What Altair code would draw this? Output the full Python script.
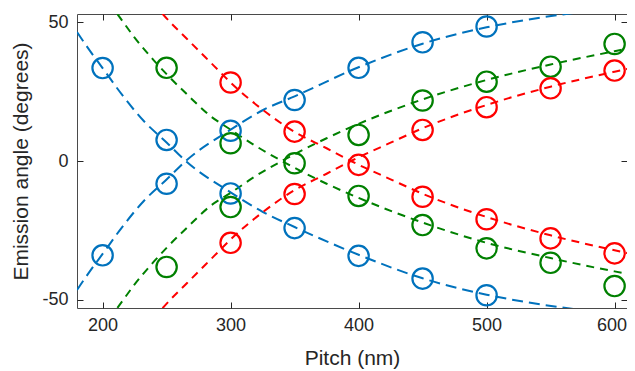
import altair as alt
import pandas as pd

# ---------------- data ----------------
# dashed theory curves (pitch in nm, angle in degrees)
blue_down_x = [180, 190, 200, 215, 232, 250, 265, 300, 325, 350, 400, 450, 500, 530, 570]
blue_down_y = [46.5, 39.8, 33.5, 24, 14.5, 6.7, 0, -11.3, -18.3, -23.8, -33.8, -42.3, -48.2, -50.8, -53.5]
blue_up_x = [180, 190, 200, 215, 232, 250, 265, 300, 325, 350, 400, 450, 500, 530, 570]
blue_up_y = [-46.5, -39.8, -33.5, -24, -14.5, -6.7, 0, 11.3, 18.3, 23.3, 33.8, 42.3, 48.2, 50.8, 53.5]

green_down_x = [205, 212, 225, 240, 250, 266, 284, 300, 320, 340, 375, 400, 450, 500, 550, 600, 620]
green_down_y = [57, 52.7, 44.5, 36.3, 31.3, 24, 16.3, 11.3, 5.3, 0, -8.2, -13.3, -22.2, -29.5, -35, -39.8, -41.5]
green_up_x = [205, 212, 225, 240, 250, 266, 284, 300, 320, 340, 375, 400, 450, 500, 550, 600, 620]
green_up_y = [-57, -52.7, -44.5, -36.3, -31.3, -24, -16.3, -11.5, -5.3, 0, 8.2, 13.4, 22.2, 29.2, 34.8, 39.6, 41.5]

red_down_x = [240, 247, 266, 287, 300, 325, 350, 375, 394, 425, 450, 500, 550, 600, 620]
red_down_y = [57, 53, 44, 34.3, 28.3, 18.5, 10.5, 4.6, 0, -6.6, -11.8, -20.2, -26.8, -32.2, -34.2]
red_up_x = [240, 247, 266, 287, 300, 325, 350, 375, 394, 425, 450, 500, 550, 600, 620]
red_up_y = [-57, -53, -44, -34.3, -28.3, -18.5, -10.5, -4.6, 0, 6.6, 11.8, 20.2, 26.8, 32.2, 34.2]

# measured points (open circles)
blue_x = [200, 200, 250, 250, 300, 300, 350, 350, 400, 400, 450, 450, 500, 500]
blue_y = [33.5, -34, 7.6, -8.2, 10.9, -11.7, 22, -24.2, 33.6, -34.2, 42.8, -42.4, 48.5, -48.4]

green_x = [250, 250, 300, 300, 350, 400, 400, 450, 450, 500, 500, 550, 550, 600, 600]
green_y = [33.6, -38.2, 6.4, -16.6, -0.8, 9.4, -12.6, 21.8, -23.1, 28.6, -31.5, 34, -36.7, 42.2, -45.1]

red_x = [300, 300, 350, 350, 400, 450, 450, 500, 500, 550, 550, 600, 600]
red_y = [28.3, -29.5, 10.6, -11.9, -1.4, 11.2, -12.9, 19.4, -21, 26.2, -27.9, 32.6, -33.3]

series_names = ["blue", "green", "red"]
series_colors = ["#0072BD", "#008000", "#FF0000"]
x_ticks = [200, 300, 400, 500, 600]
y_ticks = [-50, 0, 50]

# ---------------- tables ----------------
curve_rows = []
for series, cname, xs, ys in [
    ("blue", "blue_down", blue_down_x, blue_down_y),
    ("blue", "blue_up", blue_up_x, blue_up_y),
    ("green", "green_down", green_down_x, green_down_y),
    ("green", "green_up", green_up_x, green_up_y),
    ("red", "red_down", red_down_x, red_down_y),
    ("red", "red_up", red_up_x, red_up_y),
]:
    for x, y in zip(xs, ys):
        curve_rows.append({"series": series, "curve": cname, "pitch": x, "angle": y})
curves = pd.DataFrame(curve_rows)

pt_rows = []
for series, xs, ys in [("blue", blue_x, blue_y), ("green", green_x, green_y), ("red", red_x, red_y)]:
    for x, y in zip(xs, ys):
        pt_rows.append({"series": series, "pitch": x, "angle": y})
points = pd.DataFrame(pt_rows)

# ---------------- chart ----------------
FONT = "Liberation Sans"
TXT = "#262626"
x_scale = alt.Scale(domain=[180, 609.7], nice=False, zero=False)
y_scale = alt.Scale(domain=[-53, 53], nice=False, zero=False)
color = alt.Color("series:N", scale=alt.Scale(domain=series_names, range=series_colors), legend=None)

lines = alt.Chart(curves).mark_line(strokeWidth=2, clip=True, interpolate="monotone").encode(
    x=alt.X("pitch:Q", scale=x_scale,
            axis=alt.Axis(orient="bottom", values=x_ticks, title="Pitch (nm)", offset=-6, tickSize=6,
                          domain=False, grid=False, labelPadding=8, labelFontSize=18, titleFontSize=21,
                          titleFontWeight="normal", titlePadding=13, labelFont=FONT, titleFont=FONT,
                          labelColor=TXT, titleColor=TXT, tickColor=TXT,
                          labelOffset={"condition": {"test": "datum.value == 600", "value": -3}, "value": 0})),
    y=alt.Y("angle:Q", scale=y_scale,
            axis=alt.Axis(orient="left", values=y_ticks, title="Emission angle (degrees)", offset=-6,
                          tickSize=6, domain=False, grid=False, labelPadding=9, labelFontSize=18,
                          titleFontSize=21, titleFontWeight="normal", titlePadding=10,
                          labelFont=FONT, titleFont=FONT, labelColor=TXT, titleColor=TXT, tickColor=TXT,
                          labelExpr="replace(datum.label, '\u2212', '-')")),
    color=color,
    strokeDash=alt.StrokeDash("series:N", scale=alt.Scale(domain=series_names,
                                                          range=[[11, 6], [8, 6], [8, 6]]), legend=None),
    detail="curve:N",
)

circles = alt.Chart(points).mark_point(shape="circle", filled=False, size=415, strokeWidth=2.2,
                                        opacity=1, clip=True).encode(
    x=alt.X("pitch:Q", scale=x_scale,
            axis=alt.Axis(orient="top", values=x_ticks, title=None, labels=False, offset=-6, tickSize=6,
                          domain=False, grid=False, tickColor=TXT)),
    y=alt.Y("angle:Q", scale=y_scale,
            axis=alt.Axis(orient="right", values=y_ticks, title=None, labels=False, offset=-6,
                          tickSize=6, domain=False, grid=False, tickColor=TXT)),
    color=color,
)

chart = alt.layer(lines, circles).resolve_axis(x="independent", y="independent").properties(
    width=550,
    height=294,
    autosize=alt.AutoSizeParams(type="none"),
    padding={"left": 69, "top": 6, "right": 0, "bottom": 63},
    background="white",
).configure_view(stroke="#4a4a4a", strokeWidth=1)

chart.save("out.html", embed_options={"renderer": "svg", "actions": False})
